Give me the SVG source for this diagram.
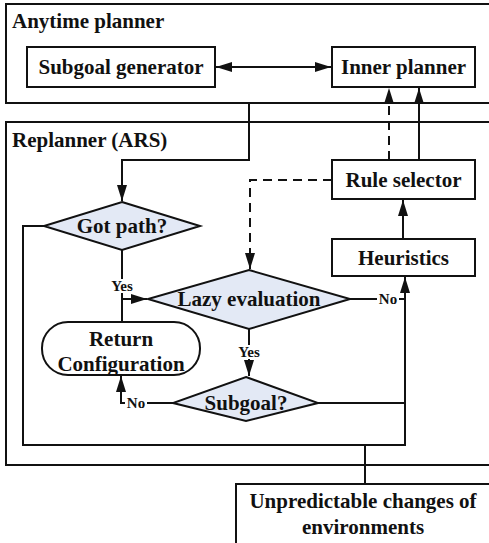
<svg xmlns="http://www.w3.org/2000/svg" width="489" height="543" viewBox="0 0 489 543">
<style>
.box{fill:#fff;stroke:#111;stroke-width:2}
.frame{fill:none;stroke:#111;stroke-width:2}
.dia{fill:#e3e9f5;stroke:#111;stroke-width:2}
.t{font-family:"Liberation Serif","Times New Roman",serif;font-weight:bold;font-size:21px;fill:#111;text-anchor:middle}
.tl{font-family:"Liberation Serif","Times New Roman",serif;font-weight:bold;font-size:21px;fill:#111}
.s{font-family:"Liberation Serif","Times New Roman",serif;font-weight:bold;font-size:15px;fill:#111;text-anchor:middle}
.ln{fill:none;stroke:#111;stroke-width:2}
.dash{fill:none;stroke:#111;stroke-width:2;stroke-dasharray:9 6}
</style>
<defs>
<marker id="ahl" markerWidth="16" markerHeight="10" viewBox="0 0 16 10" refX="16" refY="5" orient="auto-start-reverse" markerUnits="userSpaceOnUse">
<path d="M0,0 L16,5 L0,10 Z" fill="#111"/>
</marker>
</defs>
<rect width="489" height="543" fill="#fff"/>
<g id="anytime-planner">
<rect class="frame" x="6" y="4" width="490" height="99"/>
<text class="tl" x="12" y="28">Anytime planner</text>
</g>
<g id="replanner">
<rect class="frame" x="6" y="122" width="490" height="343"/>
<text class="tl" x="12" y="147">Replanner (ARS)</text>
</g>
<g id="subgoal-generator">
<rect class="box" x="27" y="47" width="188" height="40"/>
<text class="t" x="121" y="74">Subgoal generator</text>
</g>
<g id="inner-planner">
<rect class="box" x="332" y="47" width="143" height="40"/>
<text class="t" x="403.5" y="74">Inner planner</text>
</g>
<g id="rule-selector">
<rect class="box" x="332" y="160" width="143" height="39"/>
<text class="t" x="403.5" y="187">Rule selector</text>
</g>
<g id="heuristics">
<rect class="box" x="332" y="239" width="143" height="37"/>
<text class="t" x="403.5" y="265">Heuristics</text>
</g>
<g id="got-path">
<polygon class="dia" points="122,202 200,226 122,250 44,226"/>
<text class="t" x="122" y="233">Got path?</text>
</g>
<g id="lazy-evaluation">
<polygon class="dia" points="249,270 350,299 249,329 148,299"/>
<text class="t" x="249" y="306">Lazy evaluation</text>
</g>
<g id="return-configuration">
<rect class="box" x="42" y="322" width="158" height="53" rx="26" ry="26"/>
<text class="t" x="121" y="346">Return</text>
<text class="t" x="121" y="371">Configuration</text>
</g>
<g id="subgoal">
<polygon class="dia" points="246,377 318,403 246,421 173,403"/>
<text class="t" x="246" y="410">Subgoal?</text>
</g>
<g id="unpredictable-changes">
<rect class="box" x="236" y="484" width="260" height="70"/>
<text class="t" x="363" y="508">Unpredictable changes of</text>
<text class="t" x="363" y="534">environments</text>
</g>
<g id="connectors">
<line class="ln" x1="216" y1="67" x2="331" y2="67" marker-start="url(#ahl)" marker-end="url(#ahl)"/>
<polyline class="ln" points="249,103 249,160 122,160 122,201" marker-end="url(#ahl)"/>
<line class="dash" x1="389" y1="160" x2="389" y2="88" marker-end="url(#ahl)"/>
<line class="ln" x1="419" y1="160" x2="419" y2="88" marker-end="url(#ahl)"/>
<polyline class="dash" points="332,180 250,180 250,269" marker-end="url(#ahl)"/>
<line class="ln" x1="403" y1="239" x2="403" y2="200" marker-end="url(#ahl)"/>
<polyline class="ln" points="44,226 23,226 23,445 405,445 405,277" marker-end="url(#ahl)"/>
<line class="ln" x1="122" y1="250" x2="122" y2="322"/>
<line class="ln" x1="122" y1="299" x2="147" y2="299" marker-end="url(#ahl)"/>
<line class="ln" x1="350" y1="299" x2="405" y2="299"/>
<line class="ln" x1="249" y1="329" x2="249" y2="376" marker-end="url(#ahl)"/>
<polyline class="ln" points="173,403 121,403 121,376" marker-end="url(#ahl)"/>
<line class="ln" x1="318" y1="403" x2="405" y2="403"/>
<line class="ln" x1="365" y1="445" x2="365" y2="484"/>
<rect x="107" y="279" width="30" height="14" fill="#fff"/>
<text class="s" x="122" y="291">Yes</text>
<rect x="377" y="292" width="22" height="14" fill="#fff"/>
<text class="s" x="388" y="304">No</text>
<rect x="234" y="345" width="30" height="14" fill="#fff"/>
<text class="s" x="249" y="357">Yes</text>
<rect x="125" y="396" width="22" height="14" fill="#fff"/>
<text class="s" x="136" y="408">No</text>
</g>
</svg>
